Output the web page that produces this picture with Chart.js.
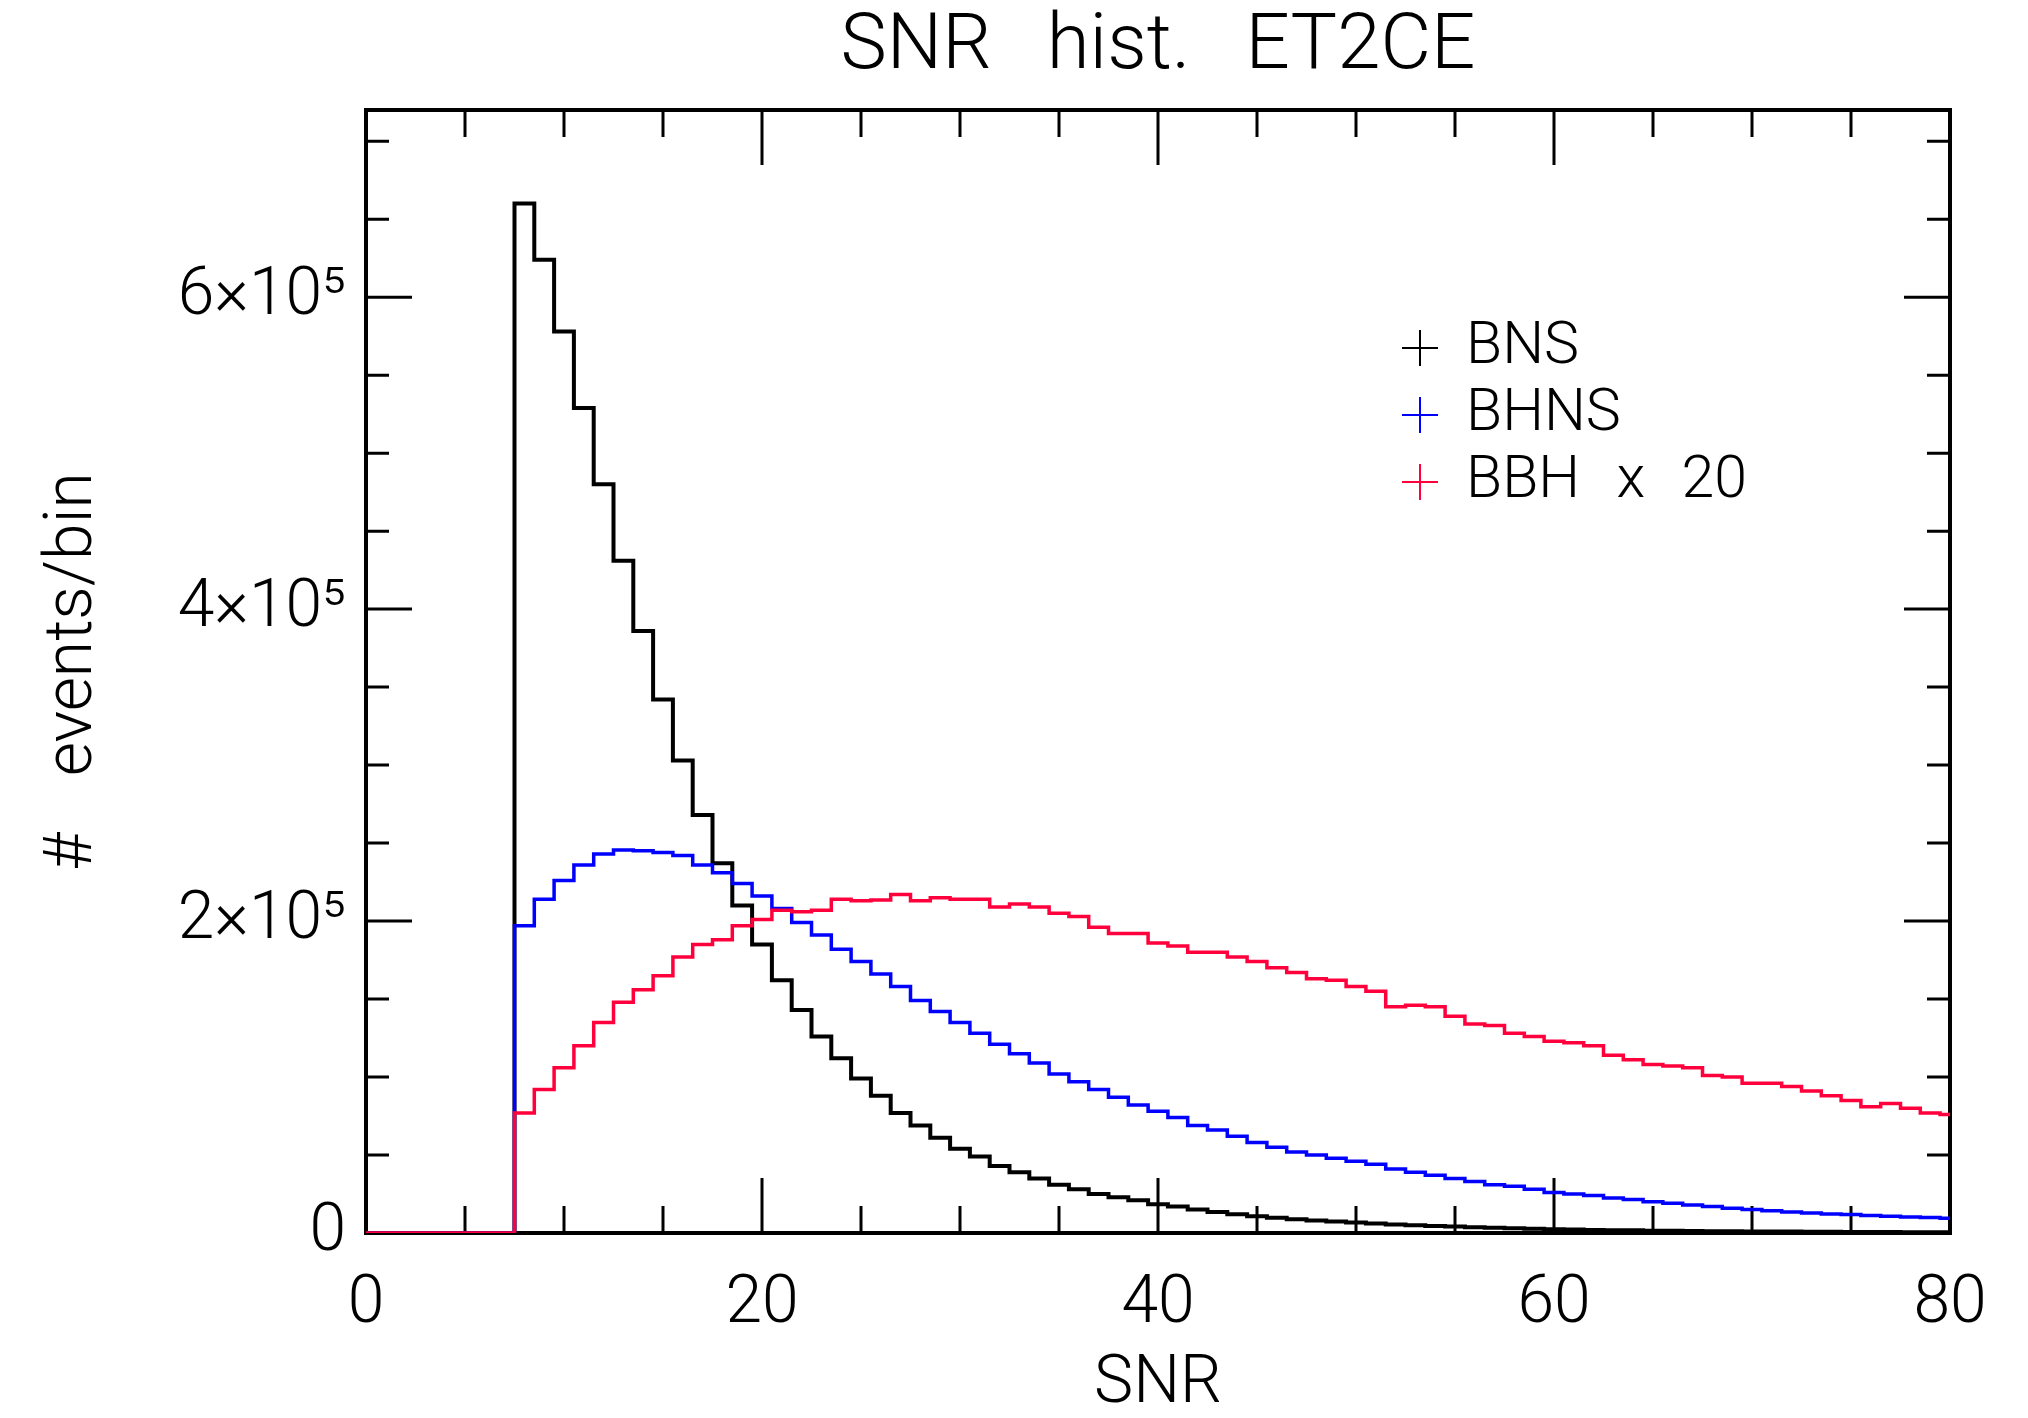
<!DOCTYPE html>
<html>
<head>
<meta charset="utf-8">
<script src="https://cdn.jsdelivr.net/npm/chart.js@4.4.1/dist/chart.umd.min.js"></script>
<style>
  html, body { margin: 0; padding: 0; background: #fff; }
  #wrap { width: 2028px; height: 1418px; }
</style>
</head>
<body>
<div id="wrap"><canvas id="chart" width="2028" height="1418"></canvas></div>
<script>
// SNR bin centres (bin width 1)
const snrBins = [8, 9, 10, 11, 12, 13, 14, 15, 16, 17, 18, 19, 20, 21, 22,
  23, 24, 25, 26, 27, 28, 29, 30, 31, 32, 33, 34, 35, 36, 37, 38, 39, 40,
  41, 42, 43, 44, 45, 46, 47, 48, 49, 50, 51, 52, 53, 54, 55, 56, 57, 58, 59, 60,
  61, 62, 63, 64, 65, 66, 67, 68, 69, 70, 71, 72, 73, 74, 75, 76, 77, 78, 79, 80];
const binWidth = 1;

// events per bin, in thousands
const bns = [660, 624, 578, 529, 480, 431, 386, 342, 303, 268, 237, 210, 185, 162, 143,
  126, 112, 99, 88, 77, 69, 61, 54, 49, 43, 39, 35, 31, 28, 25, 23, 21, 18.5,
  17, 15, 13.5, 12, 10.8, 9.8, 8.8, 8, 7.4, 6.8, 6.1, 5.5, 5, 4.5, 4.1, 3.7, 3.3, 3, 2.7, 2.4,
  2.2, 2, 1.8, 1.7, 1.5, 1.4, 1.3, 1.2, 1.1, 1, 0.95, 0.9, 0.8, 0.75, 0.7, 0.65, 0.6, 0.55, 0.5, 0.45];
const bhns = [197, 214, 226, 236, 243, 245.5, 245, 244, 242, 236, 231, 224, 216, 208, 199,
  191, 182, 174, 166, 158, 149, 142, 135, 128, 121, 115, 109, 102, 97, 92, 87, 82, 78,
  74, 69, 66, 62, 58, 55, 52, 50, 48, 46, 44, 41, 39, 37, 35, 33, 31, 30, 28, 26,
  25, 24, 22.5, 21.5, 20, 19, 18, 17, 15.8, 15, 14.2, 13.5, 12.9, 12.2, 11.8, 11.2, 10.8, 10.3, 9.9, 9.5];
const bbhX20 = [77, 92, 106, 120, 135, 148, 156, 165, 177, 185, 188, 197, 201, 207, 206,
  207, 214, 213, 213.5, 217, 213, 215, 214, 214, 209, 211, 209, 205, 203, 196, 192, 192, 186,
  184, 180, 180, 177, 174, 170, 167, 163, 162, 158, 155, 145, 146, 145, 139, 134, 133, 128, 126, 123,
  122, 120, 114, 111, 108, 107, 106, 101, 100, 96, 96, 94, 91, 88, 85, 81, 83, 80, 77, 76];

const xTicks = [0, 20, 40, 60, 80];
const yTicks = [0, 200000, 400000, 600000];
const xMin = 0, xMax = 80, xMajor = 20, xMinor = 5;
const yMin = 0, yMax = 720000, yMajor = 200000, yMinor = 50000;
const titleText = 'SNR hist. ET2CE';
const FONT = 'Roboto, "DejaVu Sans", sans-serif';

function histPoints(values) {
  let pts = [{x: xMin, y: 0}];
  snrBins.forEach((c, i) => pts.push({x: c - binWidth / 2, y: values[i] * 1000}));
  let last = snrBins.length - 1;
  pts.push({x: snrBins[last] + binWidth / 2, y: values[last] * 1000});
  return pts;
}

function yLabel(v) {
  if (v === 0) return '0';
  return (v / 1e5) + '×10⁵';
}

// box, inward ticks on all four sides, title and "+" legend
const idlFrame = {
  id: 'idlFrame',
  beforeDraw(chart) {
    chart.ctx.wordSpacing = '40px';
  },
  beforeDatasetsDraw(chart) {
    const {ctx, chartArea: a, scales: {x, y}} = chart;
    ctx.save();
    ctx.strokeStyle = '#000';
    ctx.lineWidth = 3;
    ctx.beginPath();
    for (let v = xMin; v <= xMax; v += xMinor) {
      let px = x.getPixelForValue(v);
      let len = v % xMajor === 0 ? 55 : 27;
      ctx.moveTo(px, a.bottom); ctx.lineTo(px, a.bottom - len);
      ctx.moveTo(px, a.top); ctx.lineTo(px, a.top + len);
    }
    for (let v = yMin; v <= yMax; v += yMinor) {
      let py = y.getPixelForValue(v);
      let len = v % yMajor === 0 ? 46 : 23;
      ctx.moveTo(a.left, py); ctx.lineTo(a.left + len, py);
      ctx.moveTo(a.right, py); ctx.lineTo(a.right - len, py);
    }
    ctx.stroke();
    ctx.lineWidth = 4;
    ctx.strokeRect(a.left, a.top, a.right - a.left, a.bottom - a.top);
    ctx.restore();
  },
  afterDraw(chart) {
    const {ctx, chartArea: a} = chart;
    ctx.save();
    ctx.fillStyle = '#000';
    ctx.textBaseline = 'middle';
    ctx.textAlign = 'center';
    ctx.font = '300 78px ' + FONT;
    ctx.wordSpacing = '36px';
    ctx.fillText(titleText, (a.left + a.right) / 2, 48);

    // legend
    ctx.textAlign = 'left';
    ctx.font = '300 59px ' + FONT;
    ctx.wordSpacing = '22px';
    chart.data.datasets.forEach((ds, i) => {
      let cy = 348 + i * 67, cx = 1420, h = 18;
      ctx.strokeStyle = ds.borderColor;
      ctx.lineWidth = 2;
      ctx.beginPath();
      ctx.moveTo(cx - h, cy); ctx.lineTo(cx + h, cy);
      ctx.moveTo(cx, cy - h); ctx.lineTo(cx, cy + h);
      ctx.stroke();
      ctx.fillStyle = '#000';
      ctx.fillText(ds.label, 1466, cy);
    });
    ctx.restore();
  }
};

const lineStyle = {
  stepped: 'before', pointRadius: 0, fill: false, tension: 0,
  borderJoinStyle: 'miter', borderCapStyle: 'butt'
};

new Chart(document.getElementById('chart'), {
  type: 'line',
  data: {
    datasets: [
      Object.assign({label: 'BNS', data: histPoints(bns), borderColor: '#000000', borderWidth: 4, order: 3}, lineStyle),
      Object.assign({label: 'BHNS', data: histPoints(bhns), borderColor: '#0000ff', borderWidth: 3.5, order: 2}, lineStyle),
      Object.assign({label: 'BBH x 20', data: histPoints(bbhX20), borderColor: '#ff003c', borderWidth: 3.5, order: 1}, lineStyle)
    ]
  },
  options: {
    responsive: false,
    animation: false,
    devicePixelRatio: 1,
    events: [],
    layout: {padding: {top: 110, right: 78, left: 0, bottom: 0}},
    plugins: {legend: {display: false}, tooltip: {enabled: false}, title: {display: false}},
    scales: {
      x: {
        type: 'linear', min: xMin, max: xMax,
        grid: {display: false, drawTicks: false},
        border: {display: false},
        afterBuildTicks(s) { s.ticks = xTicks.map(v => ({value: v})); },
        ticks: {padding: 33, color: '#000', maxRotation: 0, autoSkip: false,
          font: {family: FONT, size: 66, weight: 300}},
        title: {display: true, text: 'SNR', color: '#000', padding: {top: 0, bottom: 0},
          font: {family: FONT, size: 66, weight: 300, lineHeight: 1}},
        afterFit(s) { s.height = 185; }
      },
      y: {
        type: 'linear', min: yMin, max: yMax,
        grid: {display: false, drawTicks: false},
        border: {display: false},
        afterBuildTicks(s) { s.ticks = yTicks.map(v => ({value: v})); },
        ticks: {padding: 20, color: '#000', autoSkip: false,
          callback: yLabel, font: {family: FONT, size: 66, weight: 300}},
        title: {display: true, text: '# events/bin', color: '#000', padding: {top: 41, bottom: 0},
          font: {family: FONT, size: 66, weight: 300, lineHeight: 1}},
        afterFit(s) { s.width = 366; }
      }
    }
  },
  plugins: [idlFrame]
});
</script>
</body>
</html>
